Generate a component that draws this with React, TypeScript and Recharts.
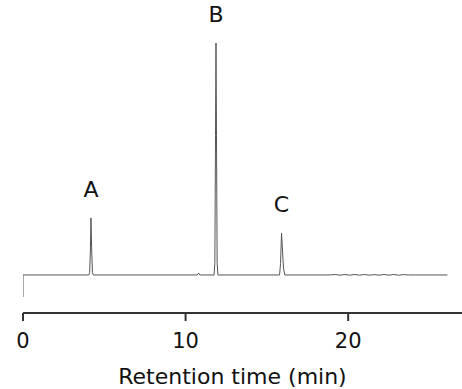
import React from "react";
import { LineChart, Line, XAxis, YAxis, ReferenceDot } from "recharts";

// Chromatogram trace: retention time (min) vs detector response (relative)
const times = [
  0, 0, 4.05, 4.1, 4.15, 4.18, 4.22, 4.27, 4.32,
  10.72, 10.8, 10.88,
  11.75, 11.8, 11.84, 11.87, 11.9, 11.94, 11.99,
  15.78, 15.84, 15.9, 15.95, 16.02, 16.1,
  18.9, 19.2, 19.5, 19.8, 20.1, 20.4, 20.7, 21.0, 21.3, 21.6, 21.9, 22.2, 22.5, 22.8, 23.1, 23.4, 23.7,
  26.1,
];
const responses = [
  -9.5, 0, 0, 1, 12, 24.6, 12, 1, 0,
  0, 0.8, 0,
  0, 5, 60, 100, 60, 5, 0,
  0, 5, 18, 12, 3, 0,
  0, 0.2, -0.1, 0.2, -0.1, 0.2, -0.1, 0.2, -0.1, 0.15, -0.1, 0.2, -0.1, 0.2, -0.1, 0.15, 0,
  0,
];
const trace = times.map((t, i) => ({ t, v: responses[i] }));

const peakLabels = ["A", "B", "C"];
const peakTimes = [4.18, 11.87, 15.9];
const peakHeights = [24.6, 100, 18];

const xTicks = [0, 10, 20];
const xDomain: [number, number] = [0, 27];
const yDomain: [number, number] = [-16.4, 100];

const FONT = "DejaVu Sans, sans-serif";

export default function App() {
  return (
    <div style={{ position: "absolute", left: 0, top: 0, background: "#fff" }}>
      <LineChart
        width={462}
        height={389}
        data={trace}
        margin={{ top: 43, right: 0, bottom: 0, left: 23 }}
      >
        <XAxis
          dataKey="t"
          type="number"
          domain={xDomain}
          ticks={xTicks}
          allowDataOverflow
          height={76}
          axisLine={{ stroke: "#333", strokeWidth: 2 }}
          tickLine={{ stroke: "#333", strokeWidth: 2 }}
          tickSize={8}
          tickMargin={12}
          tick={{ fill: "#111", fontSize: 21, fontFamily: FONT }}
          label={{
            value: "Retention time (min)",
            position: "insideBottom",
            offset: 5,
            dx: -10,
            fill: "#111",
            fontSize: 22,
            fontFamily: FONT,
          }}
        />
        <YAxis hide type="number" domain={yDomain} allowDataOverflow />
        <Line
          type="linear"
          dataKey="v"
          stroke="#555"
          strokeWidth={1}
          dot={false}
          isAnimationActive={false}
        />
        {peakLabels.map((lab, i) => (
          <ReferenceDot
            key={lab}
            x={peakTimes[i]}
            y={peakHeights[i]}
            r={0}
            fill="none"
            stroke="none"
            label={{
              value: lab,
              position: "top",
              offset: 21,
              fill: "#111",
              fontSize: 22,
              fontFamily: FONT,
            }}
          />
        ))}
      </LineChart>
    </div>
  );
}
